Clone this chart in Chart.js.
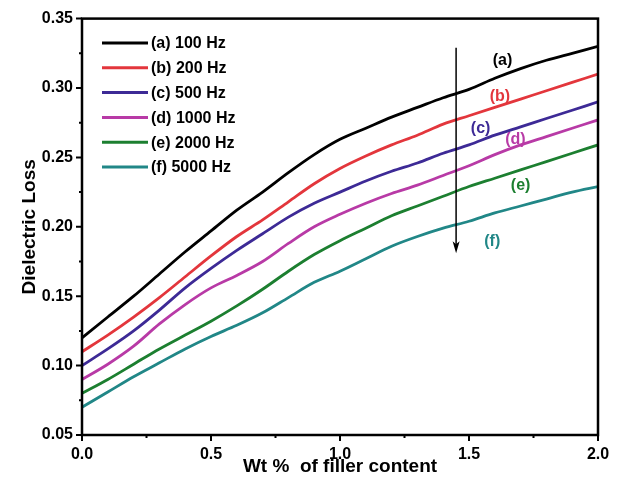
<!DOCTYPE html>
<html>
<head>
<meta charset="utf-8">
<script src="https://cdn.jsdelivr.net/npm/chart.js@4"></script>
<style>
  body { margin: 0; background: #fff; }
  #wrap { width: 623px; height: 480px; }
</style>
</head>
<body>
<div id="wrap"><canvas id="myChart" width="623" height="480"></canvas></div>
<script>
// filler content (wt %)
const wt = [0, 0.1, 0.2, 0.3, 0.4, 0.5, 0.6, 0.7, 0.8, 0.9, 1.0, 1.1, 1.2, 1.3, 1.4, 1.5, 1.6, 1.7, 1.8, 1.9, 2.0];

// dielectric loss
const loss100 = [0.120, 0.135, 0.150, 0.166, 0.182, 0.197, 0.212, 0.225, 0.239, 0.252, 0.263, 0.271, 0.279, 0.286, 0.293, 0.299, 0.307, 0.314, 0.320, 0.325, 0.330];
const loss200 = [0.110, 0.122, 0.135, 0.149, 0.164, 0.179, 0.193, 0.205, 0.218, 0.231, 0.242, 0.251, 0.259, 0.266, 0.274, 0.280, 0.286, 0.292, 0.298, 0.304, 0.310];
const loss500 = [0.100, 0.112, 0.125, 0.140, 0.156, 0.170, 0.183, 0.195, 0.207, 0.217, 0.225, 0.233, 0.240, 0.246, 0.253, 0.259, 0.266, 0.272, 0.278, 0.284, 0.290];
const loss1000 = [0.090, 0.101, 0.114, 0.130, 0.144, 0.156, 0.165, 0.175, 0.188, 0.200, 0.209, 0.217, 0.224, 0.230, 0.237, 0.244, 0.252, 0.259, 0.265, 0.271, 0.277];
const loss2000 = [0.080, 0.090, 0.101, 0.112, 0.122, 0.132, 0.143, 0.155, 0.168, 0.180, 0.190, 0.199, 0.208, 0.215, 0.222, 0.229, 0.235, 0.241, 0.247, 0.253, 0.259];
const loss5000 = [0.070, 0.081, 0.092, 0.102, 0.112, 0.121, 0.129, 0.138, 0.149, 0.160, 0.168, 0.177, 0.186, 0.193, 0.199, 0.204, 0.210, 0.215, 0.220, 0.225, 0.229];

const seriesNames = ['(a) 100 Hz', '(b) 200 Hz', '(c) 500 Hz', '(d) 1000 Hz', '(e) 2000 Hz', '(f) 5000 Hz'];
const seriesValues = [loss100, loss200, loss500, loss1000, loss2000, loss5000];
const colors = ['#000000', '#e3363c', '#3d2a96', '#b83aa6', '#1c7f30', '#218787'];

// curve tags and the arrow, in data coordinates
const tagText = ['(a)', '(b)', '(c)', '(d)', '(e)', '(f)'];
const tagX = [1.63, 1.62, 1.545, 1.68, 1.70, 1.59];
const tagY = [0.320, 0.294, 0.271, 0.263, 0.230, 0.189];
const arrowX = 1.45;
const arrowY = [0.329, 0.181];

const xTicks = [0, 0.5, 1.0, 1.5, 2.0];
const yTicks = [0.05, 0.10, 0.15, 0.20, 0.25, 0.30, 0.35];

const FONT = '"Liberation Sans", Arial, sans-serif';

const decorPlugin = {
    id: 'decor',
    afterDatasetsDraw(chart) {
        const c = chart.ctx;
        const xs = chart.scales.x, ys = chart.scales.y;
        const a = chart.chartArea;
        c.save();

        // frame
        c.strokeStyle = '#000';
        c.lineWidth = 2.5;
        c.strokeRect(a.left, a.top, a.right - a.left, a.bottom - a.top);

        // ticks (major + minor), outward
        c.lineWidth = 2;
        c.beginPath();
        for (let v = 0; v <= 2.0001; v += 0.25) {
            const px = xs.getPixelForValue(v);
            const len = Math.abs(v * 2 - Math.round(v * 2)) < 1e-6 ? 6 : 3;
            c.moveTo(px, a.bottom); c.lineTo(px, a.bottom + len);
        }
        for (let v = 0.05; v <= 0.3501; v += 0.025) {
            const py = ys.getPixelForValue(v);
            const major = Math.abs(v * 20 - Math.round(v * 20)) < 1e-6;
            const len = major ? 6 : 3;
            c.moveTo(a.left, py); c.lineTo(a.left - len, py);
        }
        c.stroke();

        // legend
        c.font = 'bold 16px ' + FONT;
        c.textBaseline = 'middle';
        c.textAlign = 'left';
        seriesNames.forEach((name, i) => {
            const y = 43 + i * 24.8;
            c.strokeStyle = colors[i];
            c.lineWidth = 3;
            c.beginPath();
            c.moveTo(102, y); c.lineTo(148, y);
            c.stroke();
            c.fillStyle = '#000';
            c.fillText(name, 151, y + 1);
        });

        // curve tags
        c.font = 'bold 16px ' + FONT;
        c.textAlign = 'center';
        tagText.forEach((t, i) => {
            c.fillStyle = colors[i];
            c.fillText(t, xs.getPixelForValue(tagX[i]), ys.getPixelForValue(tagY[i]));
        });

        // arrow
        const ax = xs.getPixelForValue(arrowX);
        const ay0 = ys.getPixelForValue(arrowY[0]);
        const ay1 = ys.getPixelForValue(arrowY[1]);
        c.strokeStyle = '#000';
        c.fillStyle = '#000';
        c.lineWidth = 1.5;
        c.beginPath();
        c.moveTo(ax, ay0); c.lineTo(ax, ay1 - 8);
        c.stroke();
        c.beginPath();
        c.moveTo(ax, ay1);
        c.lineTo(ax - 3.5, ay1 - 12);
        c.lineTo(ax, ay1 - 9);
        c.lineTo(ax + 3.5, ay1 - 12);
        c.closePath();
        c.fill();

        c.restore();
    }
};

const ctx = document.getElementById('myChart').getContext('2d');
new Chart(ctx, {
    type: 'line',
    data: {
        labels: wt,
        datasets: seriesNames.map((name, i) => ({
            label: name,
            data: wt.map((x, j) => ({ x: x, y: seriesValues[i][j] })),
            borderColor: colors[i],
            backgroundColor: colors[i],
            borderWidth: 2.8,
            pointRadius: 0,
            cubicInterpolationMode: 'monotone',
            fill: false
        }))
    },
    options: {
        responsive: false,
        animation: false,
        layout: { padding: { left: 0, top: 16, right: 25, bottom: 0 } },
        plugins: {
            legend: { display: false },
            tooltip: { enabled: false }
        },
        scales: {
            x: {
                type: 'linear',
                min: 0,
                max: 2.0,
                afterFit: s => { s.height = 45; },
                afterBuildTicks: s => { s.ticks = xTicks.map(v => ({ value: v })); },
                grid: { display: false, drawTicks: false, tickLength: 0 },
                border: { display: false },
                ticks: {
                    padding: 10,
                    color: '#000',
                    font: { family: FONT, size: 16, weight: 'bold' },
                    maxRotation: 0,
                    callback: v => v.toFixed(1)
                },
                title: {
                    display: true,
                    text: 'Wt %  of filler content',
                    color: '#000',
                    font: { family: FONT, size: 19, weight: 'bold' },
                    padding: { top: 0, bottom: 2 }
                }
            },
            y: {
                type: 'linear',
                min: 0.05,
                max: 0.35,
                afterFit: s => { s.width = 82; },
                afterBuildTicks: s => { s.ticks = yTicks.map(v => ({ value: v })); },
                grid: { display: false, drawTicks: false, tickLength: 0 },
                border: { display: false },
                ticks: {
                    padding: 9,
                    color: '#000',
                    font: { family: FONT, size: 16, weight: 'bold' },
                    callback: v => v.toFixed(2)
                },
                title: {
                    display: true,
                    text: 'Dielectric Loss',
                    color: '#000',
                    font: { family: FONT, size: 19, weight: 'bold' },
                    padding: { top: 18, bottom: 0 }
                }
            }
        }
    },
    plugins: [decorPlugin]
});
</script>
</body>
</html>
